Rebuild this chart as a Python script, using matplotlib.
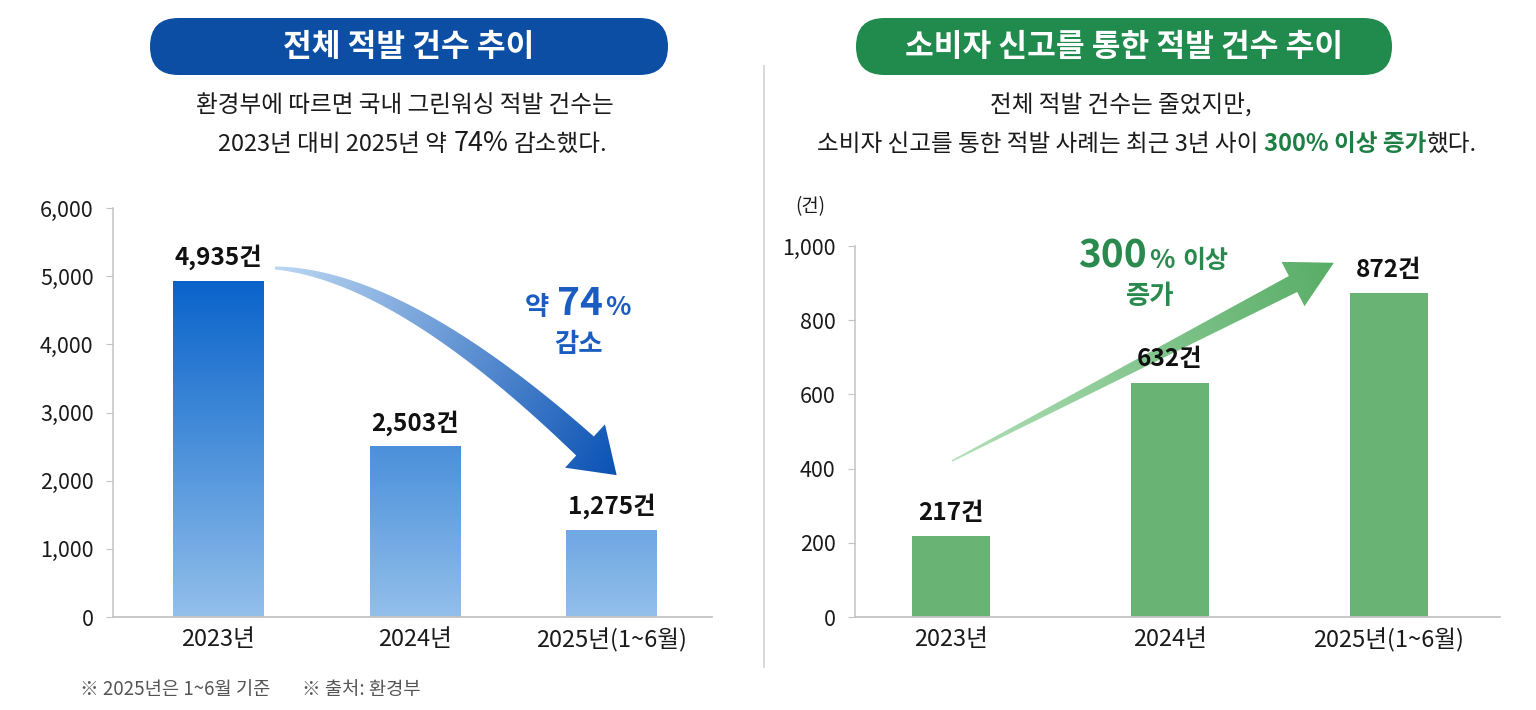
import numpy as np
import matplotlib
matplotlib.use('Agg')
import matplotlib.pyplot as plt
from matplotlib.patches import FancyBboxPatch, Polygon
from matplotlib.colors import LinearSegmentedColormap

plt.rcParams['font.family'] = ['Noto Sans CJK KR', 'DejaVu Sans']

# data
years = ['2023년', '2024년', '2025년(1~6월)']
total_cases = [4935, 2503, 1275]
consumer_cases = [217, 632, 872]
total_ticks = [0, 1000, 2000, 3000, 4000, 5000, 6000]
consumer_ticks = [0, 200, 400, 600, 800, 1000]

W, H = 1536, 710
fig = plt.figure(figsize=(W / 100, H / 100), dpi=100)
fig.patch.set_facecolor('white')

TXT = '#1a1a1a'
AXC = '#c4c4c4'


def style_axis(ax, ticks):
    for s in ['top', 'right']:
        ax.spines[s].set_visible(False)
    ax.spines['left'].set_color(AXC)
    ax.spines['bottom'].set_color(AXC)
    ax.spines['left'].set_linewidth(1.1)
    ax.spines['bottom'].set_linewidth(1.3)
    ax.set_yticks(ticks)
    ax.set_yticklabels([f'{v:,}' for v in ticks])
    ax.set_xticks(range(len(years)))
    ax.set_xticklabels(years)
    ax.tick_params(axis='y', length=5, color=AXC, pad=9, labelsize=15.5, labelcolor=TXT)
    ax.tick_params(axis='x', length=0, pad=8, labelsize=17, labelcolor=TXT)
    ax.patch.set_visible(False)


# overlay in pixel coords (y down) for titles, arrows, notes
ov = fig.add_axes([0, 0, 1, 1])
ov.patch.set_visible(False)
ov.axis('off')

# left chart: total cases
ax1 = fig.add_axes([113 / W, 1 - 617 / H, 599 / W, 409 / H])
bars1 = ax1.bar(range(3), total_cases, width=0.46, color='none', edgecolor='none')
grad = np.linspace(0, 1, 256).reshape(-1, 1)
blue_cmap = LinearSegmentedColormap.from_list('blue', ['#93bfeb', '#4a90da', '#0862ca'])
for b in bars1:
    im = ax1.imshow(grad, cmap=blue_cmap, origin='lower', aspect='auto',
                    extent=(b.get_x(), b.get_x() + b.get_width(), 0, 5000), zorder=2)
    im.set_clip_path(b)
ax1.set_xlim(-0.535, 2.51)
ax1.set_ylim(0, 6000)
style_axis(ax1, total_ticks)
for i, v in enumerate(total_cases):
    ax1.annotate(f'{v:,}건', (i, v), xytext=(0, 17), textcoords='offset points',
                 ha='center', va='center', fontsize=17.5, fontweight='bold', color='#111')

# right chart: consumer reports
ax2 = fig.add_axes([855 / W, 1 - 617 / H, 645 / W, 371 / H])
ax2.bar(range(3), consumer_cases, width=0.356, color='#69b374', edgecolor='none', zorder=2)
ax2.set_xlim(-0.438, 2.507)
ax2.set_ylim(0, 1000)
style_axis(ax2, consumer_ticks)
for i, v in enumerate(consumer_cases):
    ax2.annotate(f'{v:,}건', (i, v), xytext=(0, 17), textcoords='offset points',
                 ha='center', va='center', fontsize=17.5, fontweight='bold', color='#111')


def grad_arrow(pts, widths, head_w, head_len, c0, c1):
    pts = np.asarray(pts, float)
    tang = np.gradient(pts, axis=0)
    tang /= np.linalg.norm(tang, axis=1)[:, None]
    nrm = np.stack([-tang[:, 1], tang[:, 0]], axis=1)
    left = pts + nrm * widths[:, None] / 2
    right = pts - nrm * widths[:, None] / 2
    end, d, nn = pts[-1], tang[-1], nrm[-1]
    tip = end + d * head_len
    poly = np.vstack([left, end + nn * head_w / 2, tip, end - nn * head_w / 2, right[::-1]])
    patch = Polygon(poly, closed=True, facecolor='none', edgecolor='none')
    ov.add_patch(patch)
    x0, y0 = poly.min(0)
    x1, y1 = poly.max(0)
    X, Y = np.meshgrid(np.linspace(x0, x1, 300), np.linspace(y0, y1, 300))
    s = pts[0]
    v = tip - s
    Z = ((X - s[0]) * v[0] + (Y - s[1]) * v[1]) / (v @ v)
    cmap = LinearSegmentedColormap.from_list('arr', [c0, c1])
    im = ov.imshow(Z, cmap=cmap, vmin=0, vmax=1, extent=(x0, x1, y1, y0),
                   origin='upper', aspect='auto', interpolation='bilinear', zorder=3)
    im.set_clip_path(patch)


# curved decrease arrow
t = np.linspace(0, 1, 80)[:, None]
S, C, E = np.array([275, 268]), np.array([400, 275]), np.array([585, 446])
curve = (1 - t) ** 2 * S + 2 * (1 - t) * t * C + t ** 2 * E
grad_arrow(curve, np.linspace(3, 26, 80), 59, 43, '#bcd7f3', '#0a52b4')

# straight increase arrow
line = np.linspace([952, 461], [1293, 284], 60)
grad_arrow(line, np.linspace(1.5, 18, 60), 50, 46, '#b2e0b9', '#58ad66')

ov.set_xlim(0, W)
ov.set_ylim(H, 0)

# title pills
ov.add_patch(FancyBboxPatch((150, 18), 518, 57, boxstyle='round,pad=0,rounding_size=28.5',
                            fc='#0b4ea3', ec='none', zorder=2))
ov.add_patch(FancyBboxPatch((856, 18), 536, 57, boxstyle='round,pad=0,rounding_size=28.5',
                            fc='#218a4d', ec='none', zorder=2))
ov.text(409, 47, '전체 적발 건수 추이', ha='center', va='center', color='white',
        fontsize=22.5, fontweight='bold', zorder=4)
ov.text(1124, 47, '소비자 신고를 통한 적발 건수 추이', ha='center', va='center', color='white',
        fontsize=22.5, fontweight='bold', zorder=4)

renderer = fig.canvas.get_renderer()


def seg_text(x, y, segs, gaps):
    texts = [ov.text(0, y, s, va='baseline', ha='left', zorder=4, **kw) for s, kw in segs]
    widths = [tx.get_window_extent(renderer).width for tx in texts]
    total = sum(widths) + sum(gaps)
    pos = x - total / 2
    for k, tx in enumerate(texts):
        tx.set_x(pos)
        pos += widths[k] + (gaps[k] if k < len(gaps) else 0)


norm = dict(fontsize=17, color=TXT)
ov.text(405, 106, '환경부에 따르면 국내 그린워싱 적발 건수는', ha='center', va='center', **norm)
seg_text(413, 151, [('2023년 대비 2025년 약', norm),
                    ('74%', dict(fontsize=19.5, color=TXT)),
                    ('감소했다.', norm)], [6, 6])

ov.text(1121, 106, '전체 적발 건수는 줄었지만,', ha='center', va='center', **norm)
green_b = dict(fontsize=17, color='#1e7f45', fontweight='bold')
seg_text(1147, 151, [('소비자 신고를 통한 적발 사례는 최근 3년 사이', norm),
                     ('300% 이상 증가', green_b),
                     ('했다.', norm)], [6, 0])

# annotation labels
blue_t = '#1a5cbf'
seg_text(578, 315, [('약', dict(fontsize=19, color=blue_t, fontweight='bold')),
                    ('74', dict(fontsize=28, color=blue_t, fontweight='bold')),
                    ('%', dict(fontsize=19, color=blue_t, fontweight='bold'))], [8, 2])
ov.text(578, 344, '감소', ha='center', va='center', fontsize=19, color=blue_t, fontweight='bold')

green_t = '#2a8a4e'
seg_text(1153, 268, [('300', dict(fontsize=28, color=green_t, fontweight='bold')),
                     ('%', dict(fontsize=19, color=green_t, fontweight='bold')),
                     ('이상', dict(fontsize=18, color=green_t, fontweight='bold'))], [2, 8])
ov.text(1150, 297, '증가', ha='center', va='center', fontsize=19, color=green_t, fontweight='bold')

# unit label, divider, footnotes
ov.text(810, 207, '(건)', ha='center', va='center', fontsize=13.5, color=TXT)
ov.plot([764, 764], [66, 667], color='#d6d6d6', lw=1.3, zorder=1)
ov.text(80, 689, '※ 2025년은 1~6월 기준', ha='left', va='center', fontsize=13.5, color='#555555')
ov.text(302, 689, '※ 출처: 환경부', ha='left', va='center', fontsize=13.5, color='#555555')

fig.savefig('out.png', dpi=100, facecolor='white')
